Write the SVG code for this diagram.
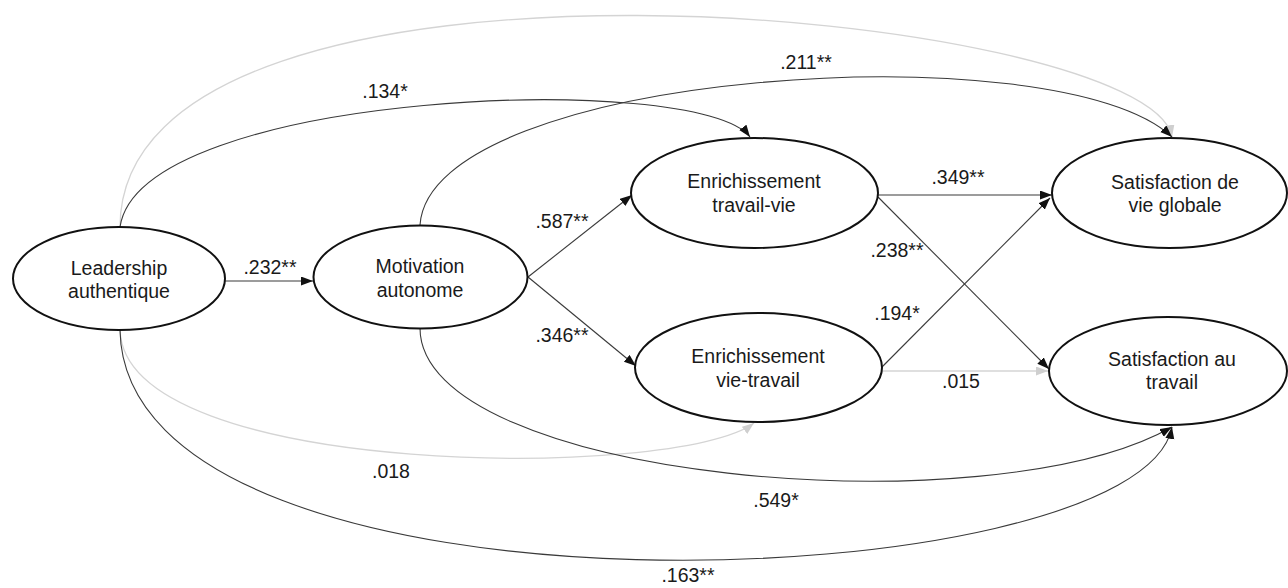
<svg xmlns="http://www.w3.org/2000/svg" width="1288" height="588" viewBox="0 0 1288 588">
<style>
.node ellipse{fill:#fff;stroke:#111;stroke-width:2}
text{font-family:"Liberation Sans",Arial,sans-serif;font-size:19.5px;fill:#1a1a1a;text-anchor:middle}
.c{fill:none;stroke:#3a3a3a;stroke-width:1.1}
.g{fill:none;stroke:#d4d4d4;stroke-width:1.3}
</style>
<defs>
<marker id="ab" markerUnits="userSpaceOnUse" markerWidth="13" markerHeight="10" refX="12" refY="4.5" orient="auto"><path d="M0,0 L12,4.5 L0,9 z" fill="#111"/></marker>
<marker id="ag" markerUnits="userSpaceOnUse" markerWidth="13" markerHeight="10" refX="12" refY="4.5" orient="auto"><path d="M0,0 L12,4.5 L0,9 z" fill="#cfcfcf"/></marker>
</defs>
<g id="connectors">
<path class="g" d="M120,227 C120,-90 1150,10 1172,137" marker-end="url(#ag)"/>
<path class="g" d="M120,330 C125,480 680,480 754,423" marker-end="url(#ag)"/>
<line class="g" x1="882" y1="371" x2="1048" y2="371" marker-end="url(#ag)"/>
<path class="c" d="M120,227 C140,90 700,70 750,137" marker-end="url(#ab)"/>
<path class="c" d="M420,225 C430,70 1060,30 1172,137" marker-end="url(#ab)"/>
<path class="c" d="M420,328 C420,480 990,530 1172,427" marker-end="url(#ab)"/>
<path class="c" d="M120,330 C125,640 1140,600 1172,427" marker-end="url(#ab)"/>
<line class="c" x1="225" y1="281" x2="313" y2="281" stroke="#111" stroke-width="1.5" marker-end="url(#ab)"/>
<line class="c" x1="528" y1="277" x2="632" y2="195" marker-end="url(#ab)"/>
<line class="c" x1="528" y1="277" x2="636" y2="366" marker-end="url(#ab)"/>
<line class="c" x1="878" y1="195" x2="1052" y2="195" marker-end="url(#ab)"/>
<line class="c" x1="878" y1="197" x2="1049" y2="369" marker-end="url(#ab)"/>
<line class="c" x1="882" y1="367" x2="1050" y2="198" marker-end="url(#ab)"/>
<text x="270" y="274">.232**</text>
<text x="385" y="98">.134*</text>
<text x="806" y="69">.211**</text>
<text x="562" y="228">.587**</text>
<text x="562" y="342">.346**</text>
<text x="958" y="184">.349**</text>
<text x="897" y="257">.238**</text>
<text x="897" y="320">.194*</text>
<text x="961" y="388">.015</text>
<text x="391" y="478">.018</text>
<text x="776" y="507">.549*</text>
<text x="688" y="582">.163**</text>
</g>
<g id="leadership" class="node"><ellipse cx="119" cy="278.5" rx="106" ry="51.5"/><text x="119" y="275">Leadership</text><text x="119" y="298">authentique</text></g>
<g id="motivation" class="node"><ellipse cx="420.5" cy="277" rx="107" ry="51.5"/><text x="420" y="273">Motivation</text><text x="420" y="297">autonome</text></g>
<g id="enrich-tv" class="node"><ellipse cx="754.5" cy="193" rx="123.5" ry="55"/><text x="754" y="188">Enrichissement</text><text x="754" y="212">travail-vie</text></g>
<g id="enrich-vt" class="node"><ellipse cx="758.5" cy="367.5" rx="123.5" ry="54.5"/><text x="758" y="363">Enrichissement</text><text x="758" y="387">vie-travail</text></g>
<g id="sat-vie" class="node"><ellipse cx="1169.5" cy="193" rx="117.5" ry="55"/><text x="1175" y="189">Satisfaction de</text><text x="1175" y="212">vie globale</text></g>
<g id="sat-travail" class="node"><ellipse cx="1168" cy="371" rx="119" ry="54"/><text x="1172" y="366">Satisfaction au</text><text x="1172" y="389">travail</text></g>
</svg>
